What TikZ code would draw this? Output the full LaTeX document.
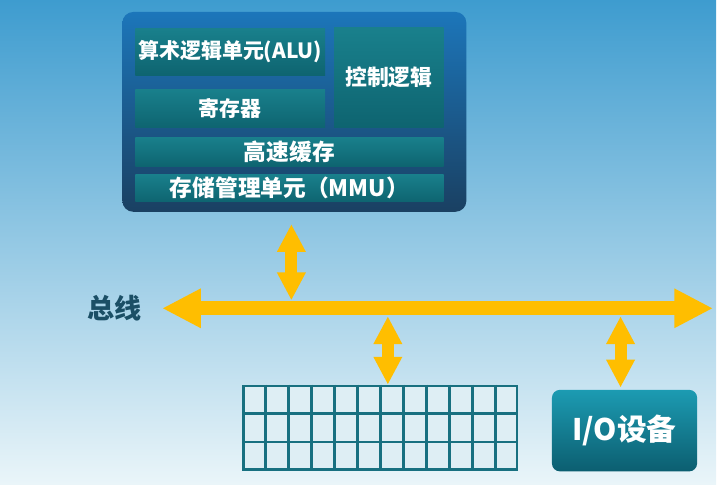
\documentclass[tikz,border=0pt]{standalone}
\usepackage{fontspec}
\setmainfont{Noto Sans CJK SC}
\usetikzlibrary{arrows.meta,calc}

\definecolor{bgtop}{RGB}{62,156,207}
\definecolor{bgmid}{RGB}{152,206,229}
\definecolor{bgbot}{RGB}{234,245,249}
\definecolor{cputop}{RGB}{28,118,186}
\definecolor{cpubot}{RGB}{26,64,98}
\definecolor{unittop}{RGB}{25,128,140}
\definecolor{unitbot}{RGB}{14,100,112}
\definecolor{busyellow}{RGB}{255,190,0}
\definecolor{gridline}{RGB}{24,112,128}
\definecolor{cellfill}{RGB}{222,238,244}
\definecolor{iotop}{RGB}{28,155,178}
\definecolor{iobot}{RGB}{12,94,112}
\definecolor{labeltext}{RGB}{27,79,102}

\begin{document}
\begin{tikzpicture}[x=0.02cm, y=-0.02cm,
  unit/.style={shade, top color=unittop, bottom color=unitbot, inner sep=0pt,
    text=white, font=\fontsize{12}{14}\selectfont\bfseries},
  busarrow/.style={busyellow, line width=0.28cm,
    -{Triangle[length=0.78cm, width=0.74cm]}},
  vlink/.style={busyellow, line width=0.24cm,
    {Triangle[length=0.56cm, width=0.54cm]}-{Triangle[length=0.56cm, width=0.54cm]}},
  memline/.style={draw=gridline, line width=1.4pt}]

\path[shade, top color=bgtop, middle color=bgmid, bottom color=bgbot]
  (0,0) rectangle (720,487);

\node[shade, top color=cputop, bottom color=cpubot, rounded corners=0.22cm,
  minimum width=6.92cm, minimum height=4.02cm] (cpu) at (296,112.5) {};

\node[unit, minimum width=3.82cm, minimum height=0.94cm] (alu) at (231.5,52) {算术逻辑单元(ALU)};

\node[unit, minimum width=3.82cm, minimum height=0.78cm] (reg) at (231.5,109) {寄存器};

\node[unit, minimum width=2.2cm, minimum height=2.0cm,
  font=\fontsize{12.5}{14}\selectfont\bfseries] (ctrl) at (391,78) {控制逻辑};

\node[unit, minimum width=6.2cm, minimum height=0.58cm,
  font=\fontsize{13}{15}\selectfont\bfseries] (cache) at (291,152.5) {高速缓存};

\node[unit, minimum width=6.2cm, minimum height=0.56cm,
  font=\fontsize{13}{15}\selectfont\bfseries] (mmu) at (291,189) {存储管理单元（MMU）};

\node[text=labeltext, font=\fontsize{15.5}{17}\selectfont\bfseries] (buslabel) at (115,310) {总线};

\coordinate (busL) at (163,310);
\coordinate (busR) at (717,310);
\coordinate (busC) at (440,310);
\draw[busarrow] (busC) -- (busL);
\draw[busarrow] (busC) -- (busR);

\node[memline, fill=cellfill, inner sep=0pt, minimum width=5.5cm, minimum height=1.68cm] (mem) at (382.5,430) {};
\foreach \i in {1,...,11}
  \draw[memline] ($(mem.north west)!\i/12!(mem.north east)$) -- ($(mem.south west)!\i/12!(mem.south east)$);
\foreach \j in {1,2}
  \draw[memline] ($(mem.north west)!\j/3!(mem.south west)$) -- ($(mem.north east)!\j/3!(mem.south east)$);

\node[shade, top color=iotop, bottom color=iobot, rounded corners=0.16cm,
  minimum width=2.92cm, minimum height=1.64cm, text=white,
  font=\fontsize{17}{20}\selectfont\bfseries] (io) at (628,433) {I/O设备};

\coordinate (b1) at (293,302);
\coordinate (b2) at (390,318);
\coordinate (b3) at (624,318);
\draw[vlink] ([yshift=-0.24cm]cpu.south -| b1) -- (b1);
\draw[vlink] (b2) -- (mem.north -| b2);
\draw[vlink] (b3) -- ([yshift=0.04cm]io.north -| b3);

\end{tikzpicture}
\end{document}
